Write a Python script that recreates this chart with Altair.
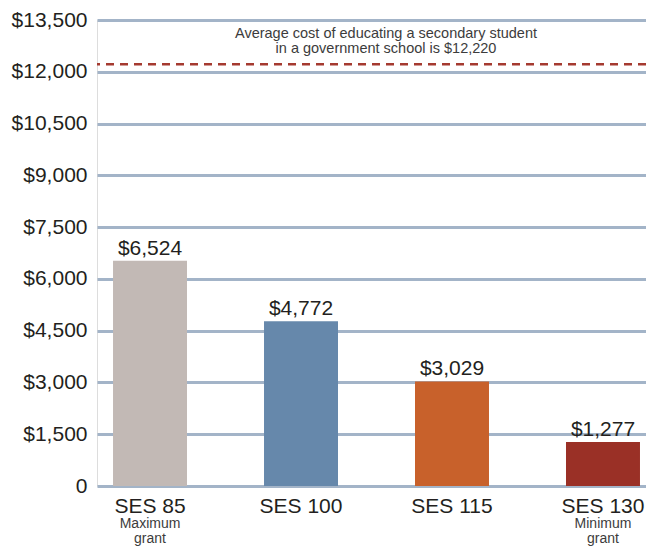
import altair as alt
import pandas as pd

categories = ["SES 85", "SES 100", "SES 115", "SES 130"]
values = [6524, 4772, 3029, 1277]
value_labels = ["$6,524", "$4,772", "$3,029", "$1,277"]
sub_line1 = ["Maximum", "", "", "Minimum"]
sub_line2 = ["grant", "", "", "grant"]
bar_colors = ["#c2b9b5", "#6688ab", "#c8612b", "#9a3026"]
y_ticks = [0, 1500, 3000, 4500, 6000, 7500, 9000, 10500, 12000, 13500]
avg_cost = 12220
avg_note = ["Average cost of educating a secondary student",
            "in a government school is $12,220"]

W, H = 549, 466
FONT = "Liberation Sans"
DARK = "#231f20"
GREY = "#3c3c3c"

df = pd.DataFrame({
    "cat": categories,
    "value": values,
    "label": value_labels,
    "sub1": sub_line1,
    "sub2": sub_line2,
})

xscale = alt.Scale(domain=categories, paddingInner=0.51, paddingOuter=0.073, align=0.727)
yscale = alt.Scale(domain=[0, 13500], nice=False)

x_enc = alt.X("cat:N", scale=xscale, sort=categories,
              axis=alt.Axis(title=None, labelAngle=0, domain=False, ticks=False,
                            grid=False, labelFontSize=21, labelColor=DARK,
                            labelPadding=9, labelFont=FONT))
y_enc = alt.Y("value:Q", scale=yscale,
              axis=alt.Axis(title=None, values=y_ticks, domain=False, ticks=False,
                            gridColor="#a3b4c8", gridWidth=3, gridOpacity=1,
                            labelFontSize=21, labelColor=DARK, labelPadding=10,
                            labelFont=FONT,
                            labelExpr="datum.value == 0 ? '0' : '$' + format(datum.value, ',')"))

base = alt.Chart(df)

bars = base.mark_bar().encode(
    x=x_enc,
    y=y_enc,
    color=alt.Color("cat:N", scale=alt.Scale(domain=categories, range=bar_colors), legend=None),
)

vals = base.mark_text(baseline="alphabetic", dy=-6, fontSize=21, color=DARK, font=FONT).encode(
    x=alt.X("cat:N", scale=xscale, sort=categories),
    y=alt.Y("value:Q", scale=yscale),
    text="label:N",
)

sub1 = base.mark_text(baseline="middle", fontSize=14, color=GREY, font=FONT).encode(
    x=alt.X("cat:N", scale=xscale, sort=categories),
    y=alt.value(H + 38),
    text="sub1:N",
)
sub2 = base.mark_text(baseline="middle", fontSize=14, color=GREY, font=FONT).encode(
    x=alt.X("cat:N", scale=xscale, sort=categories),
    y=alt.value(H + 53),
    text="sub2:N",
)

rule_df = pd.DataFrame({"value": [avg_cost]})
rule = alt.Chart(rule_df).mark_rule(color="#a53a30", strokeDash=[8, 6], strokeWidth=2.5).encode(
    y=alt.Y("value:Q", scale=yscale),
)

note_df = pd.DataFrame({"note": [0]})
note = alt.Chart(note_df).mark_text(baseline="middle", align="center", fontSize=14.5,
                                    lineHeight=15, color=GREY, font=FONT).encode(
    x=alt.value(289),
    y=alt.value(13.5),
    text=alt.value(avg_note),
)

chart = alt.layer(bars, rule, vals, sub1, sub2, note).properties(
    width=W, height=H,
    autosize=alt.AutoSizeParams(type="none"),
    padding={"left": 89, "top": 12, "right": 0, "bottom": 62},
).configure_view(stroke=None).configure(font=FONT)

chart.save("out.html", embed_options={"renderer": "svg", "actions": False})
